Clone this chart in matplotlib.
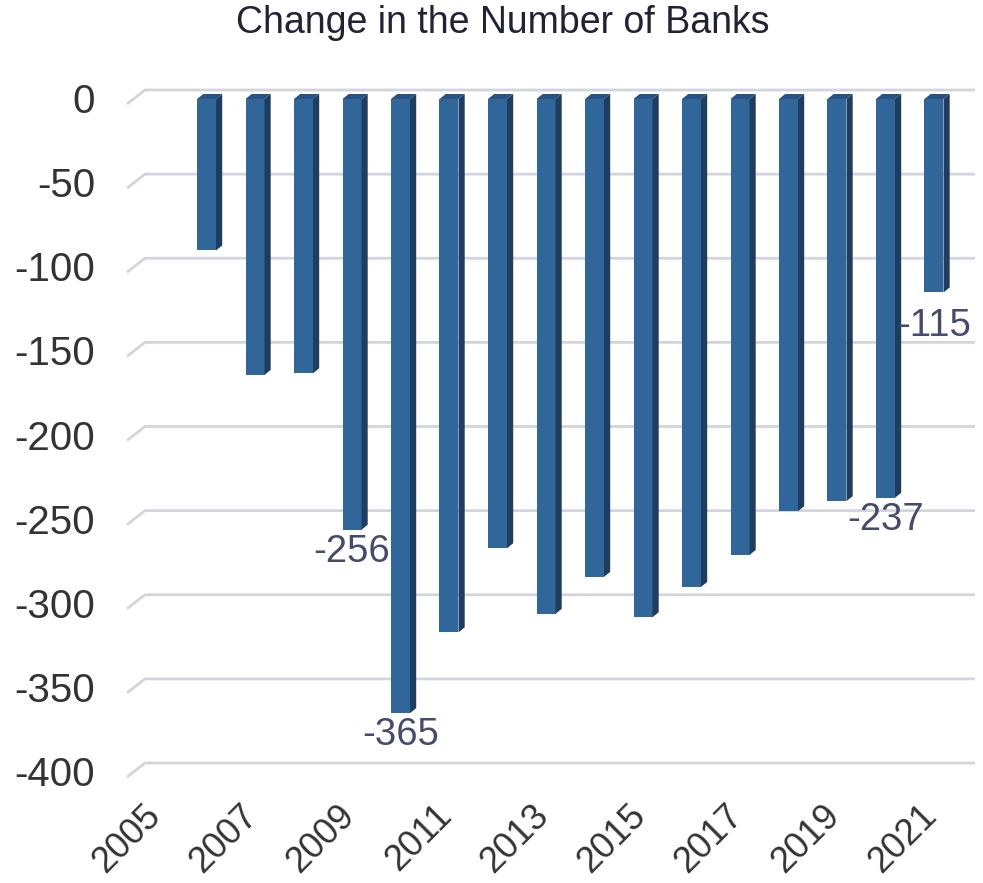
import numpy as np
import matplotlib.pyplot as plt
from matplotlib.patches import Polygon

plt.rcParams['font.family'] = ['Liberation Sans', 'DejaVu Sans']

# data
years = list(range(2005, 2022))
changes = [None, -90, -164, -163, -256, -365, -317, -267, -306, -284,
           -308, -290, -271, -245, -239, -237, -115]
labelled = {2009: "-256", 2010: "-365", 2020: "-237", 2021: "-115"}
ytick_vals = [0, -50, -100, -150, -200, -250, -300, -350, -400]
xtick_years = [2005, 2007, 2009, 2011, 2013, 2015, 2017, 2019, 2021]

FRONT = '#31669B'
SIDE = '#1F3D5E'
TOP = '#285282'
GRID = '#D3D5DE'

W, H = 983, 883
fig = plt.figure(figsize=(W / 100, H / 100), dpi=100)

# pixel helpers for the pseudo 3d look
px_x = 48.5       # px per category
px_y = 1.6825     # px per unit
left_px, right_px, top_px, bot_px = 127, 975, 60, 790
ax = fig.add_axes([left_px / W, 1 - bot_px / H, (right_px - left_px) / W, (bot_px - top_px) / H])
x0 = (left_px - 158) / px_x
x1 = (right_px - 158) / px_x
ax.set_xlim(x0, x1)
ax.set_ylim(-(bot_px - 99) / px_y, -(top_px - 99) / px_y)
ax.axis('off')

# gridlines with a small depth offset on the left
gdx = 18 / px_x
for t in ytick_vals:
    ax.plot([x0, x0 + gdx, x1], [t - 5 / px_y, t + 9 / px_y, t + 9 / px_y],
            color=GRID, lw=2, solid_capstyle='butt', zorder=1, clip_on=False)
    ax.text(x0 - 32 / px_x, t - 3 / px_y, str(t), ha='right', va='center',
            fontsize=29, color='#333333')

# bars
bw = 19 / px_x
dx = 6.2 / px_x
dy = 5 / px_y
for i, (yr, v) in enumerate(zip(years, changes)):
    if v is None:
        continue
    ax.bar(i, v, width=bw, color=FRONT, zorder=3)
    xl, xr = i - bw / 2, i + bw / 2
    ax.add_patch(Polygon([(xr, 0), (xr + dx, dy), (xr + dx, v + dy), (xr, v)],
                         closed=True, facecolor=SIDE, edgecolor='none', zorder=3))
    ax.add_patch(Polygon([(xl, 0), (xr, 0), (xr + dx, dy), (xl + dx, dy)],
                         closed=True, facecolor=TOP, edgecolor='none', zorder=3))
    if yr in labelled:
        off = 16 if yr == 2021 else 4
        ax.text(i, v - off / px_y, labelled[yr], ha='center', va='top',
                fontsize=27.5, color='#464A6B', zorder=4)

# rotated year labels
for yr in xtick_years:
    i = years.index(yr)
    ax.text(i - 15 / px_x, -(798 - 99) / px_y, str(yr), rotation=45, rotation_mode='anchor',
            ha='right', va='top', fontsize=26, color='#333333', clip_on=False)

fig.text(503 / W, 1 - 23 / H, "Change in the Number of Banks", ha='center', va='center',
         fontsize=27, color='#222233')

fig.savefig("out.png", dpi=100)
